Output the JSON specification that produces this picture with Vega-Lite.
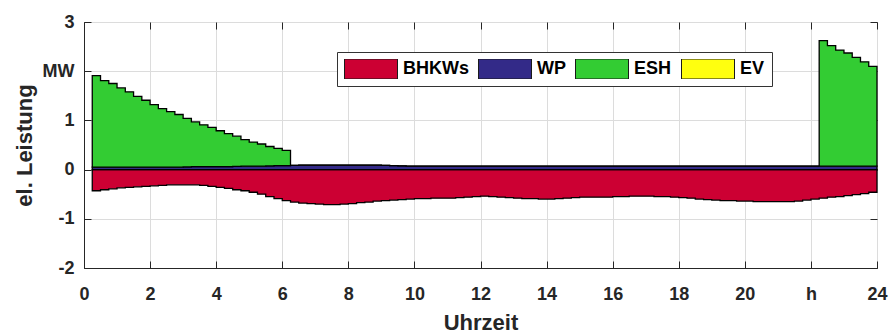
{
  "$schema": "https://vega.github.io/schema/vega-lite/v6.json",
  "width": 793,
  "height": 246,
  "autosize": {"type": "none"},
  "padding": {"left": 84, "top": 22, "right": 12, "bottom": 68},
  "background": "white",
  "config": {"view": {"stroke": "#262626", "strokeWidth": 1}, "font": "Liberation Sans"},
  "data": {"values": [
    {"t":0.25,"BHKWs":-0.43,"WP":0.05,"ESH":1.86},
    {"t":0.5,"BHKWs":-0.41,"WP":0.05,"ESH":1.76},
    {"t":0.75,"BHKWs":-0.39,"WP":0.05,"ESH":1.70},
    {"t":1.0,"BHKWs":-0.37,"WP":0.05,"ESH":1.61},
    {"t":1.25,"BHKWs":-0.36,"WP":0.05,"ESH":1.53},
    {"t":1.5,"BHKWs":-0.35,"WP":0.05,"ESH":1.44},
    {"t":1.75,"BHKWs":-0.34,"WP":0.05,"ESH":1.36},
    {"t":2.0,"BHKWs":-0.33,"WP":0.05,"ESH":1.27},
    {"t":2.25,"BHKWs":-0.32,"WP":0.05,"ESH":1.19},
    {"t":2.5,"BHKWs":-0.31,"WP":0.05,"ESH":1.13},
    {"t":2.75,"BHKWs":-0.31,"WP":0.05,"ESH":1.07},
    {"t":3.0,"BHKWs":-0.31,"WP":0.055,"ESH":0.985},
    {"t":3.25,"BHKWs":-0.31,"WP":0.06,"ESH":0.91},
    {"t":3.5,"BHKWs":-0.32,"WP":0.06,"ESH":0.85},
    {"t":3.75,"BHKWs":-0.34,"WP":0.06,"ESH":0.80},
    {"t":4.0,"BHKWs":-0.36,"WP":0.06,"ESH":0.73},
    {"t":4.25,"BHKWs":-0.38,"WP":0.06,"ESH":0.67},
    {"t":4.5,"BHKWs":-0.41,"WP":0.065,"ESH":0.615},
    {"t":4.75,"BHKWs":-0.43,"WP":0.07,"ESH":0.54},
    {"t":5.0,"BHKWs":-0.46,"WP":0.07,"ESH":0.49},
    {"t":5.25,"BHKWs":-0.50,"WP":0.07,"ESH":0.45},
    {"t":5.5,"BHKWs":-0.55,"WP":0.075,"ESH":0.395},
    {"t":5.75,"BHKWs":-0.59,"WP":0.08,"ESH":0.35},
    {"t":6.0,"BHKWs":-0.63,"WP":0.08,"ESH":0.31},
    {"t":6.25,"BHKWs":-0.66,"WP":0.085,"ESH":0},
    {"t":6.5,"BHKWs":-0.68,"WP":0.09,"ESH":0},
    {"t":6.75,"BHKWs":-0.69,"WP":0.09,"ESH":0},
    {"t":7.0,"BHKWs":-0.70,"WP":0.09,"ESH":0},
    {"t":7.25,"BHKWs":-0.71,"WP":0.09,"ESH":0},
    {"t":7.5,"BHKWs":-0.71,"WP":0.09,"ESH":0},
    {"t":7.75,"BHKWs":-0.70,"WP":0.09,"ESH":0},
    {"t":8.0,"BHKWs":-0.69,"WP":0.09,"ESH":0},
    {"t":8.25,"BHKWs":-0.67,"WP":0.09,"ESH":0},
    {"t":8.5,"BHKWs":-0.66,"WP":0.09,"ESH":0},
    {"t":8.75,"BHKWs":-0.64,"WP":0.09,"ESH":0},
    {"t":9.0,"BHKWs":-0.63,"WP":0.085,"ESH":0},
    {"t":9.25,"BHKWs":-0.62,"WP":0.08,"ESH":0},
    {"t":9.5,"BHKWs":-0.61,"WP":0.075,"ESH":0},
    {"t":9.75,"BHKWs":-0.60,"WP":0.07,"ESH":0},
    {"t":10.0,"BHKWs":-0.59,"WP":0.07,"ESH":0},
    {"t":10.25,"BHKWs":-0.59,"WP":0.07,"ESH":0},
    {"t":10.5,"BHKWs":-0.58,"WP":0.07,"ESH":0},
    {"t":10.75,"BHKWs":-0.58,"WP":0.07,"ESH":0},
    {"t":11.0,"BHKWs":-0.58,"WP":0.07,"ESH":0},
    {"t":11.25,"BHKWs":-0.57,"WP":0.07,"ESH":0},
    {"t":11.5,"BHKWs":-0.56,"WP":0.07,"ESH":0},
    {"t":11.75,"BHKWs":-0.55,"WP":0.07,"ESH":0},
    {"t":12.0,"BHKWs":-0.54,"WP":0.07,"ESH":0},
    {"t":12.25,"BHKWs":-0.55,"WP":0.07,"ESH":0},
    {"t":12.5,"BHKWs":-0.56,"WP":0.07,"ESH":0},
    {"t":12.75,"BHKWs":-0.57,"WP":0.07,"ESH":0},
    {"t":13.0,"BHKWs":-0.58,"WP":0.07,"ESH":0},
    {"t":13.25,"BHKWs":-0.59,"WP":0.07,"ESH":0},
    {"t":13.5,"BHKWs":-0.59,"WP":0.07,"ESH":0},
    {"t":13.75,"BHKWs":-0.60,"WP":0.07,"ESH":0},
    {"t":14.0,"BHKWs":-0.60,"WP":0.07,"ESH":0},
    {"t":14.25,"BHKWs":-0.59,"WP":0.07,"ESH":0},
    {"t":14.5,"BHKWs":-0.58,"WP":0.07,"ESH":0},
    {"t":14.75,"BHKWs":-0.57,"WP":0.07,"ESH":0},
    {"t":15.0,"BHKWs":-0.56,"WP":0.07,"ESH":0},
    {"t":15.25,"BHKWs":-0.56,"WP":0.07,"ESH":0},
    {"t":15.5,"BHKWs":-0.56,"WP":0.07,"ESH":0},
    {"t":15.75,"BHKWs":-0.56,"WP":0.07,"ESH":0},
    {"t":16.0,"BHKWs":-0.55,"WP":0.07,"ESH":0},
    {"t":16.25,"BHKWs":-0.55,"WP":0.07,"ESH":0},
    {"t":16.5,"BHKWs":-0.54,"WP":0.07,"ESH":0},
    {"t":16.75,"BHKWs":-0.54,"WP":0.07,"ESH":0},
    {"t":17.0,"BHKWs":-0.54,"WP":0.07,"ESH":0},
    {"t":17.25,"BHKWs":-0.55,"WP":0.07,"ESH":0},
    {"t":17.5,"BHKWs":-0.55,"WP":0.07,"ESH":0},
    {"t":17.75,"BHKWs":-0.56,"WP":0.07,"ESH":0},
    {"t":18.0,"BHKWs":-0.57,"WP":0.07,"ESH":0},
    {"t":18.25,"BHKWs":-0.58,"WP":0.07,"ESH":0},
    {"t":18.5,"BHKWs":-0.60,"WP":0.07,"ESH":0},
    {"t":18.75,"BHKWs":-0.61,"WP":0.07,"ESH":0},
    {"t":19.0,"BHKWs":-0.62,"WP":0.07,"ESH":0},
    {"t":19.25,"BHKWs":-0.63,"WP":0.07,"ESH":0},
    {"t":19.5,"BHKWs":-0.63,"WP":0.07,"ESH":0},
    {"t":19.75,"BHKWs":-0.64,"WP":0.07,"ESH":0},
    {"t":20.0,"BHKWs":-0.64,"WP":0.07,"ESH":0},
    {"t":20.25,"BHKWs":-0.65,"WP":0.07,"ESH":0},
    {"t":20.5,"BHKWs":-0.65,"WP":0.07,"ESH":0},
    {"t":20.75,"BHKWs":-0.65,"WP":0.07,"ESH":0},
    {"t":21.0,"BHKWs":-0.65,"WP":0.07,"ESH":0},
    {"t":21.25,"BHKWs":-0.65,"WP":0.07,"ESH":0},
    {"t":21.5,"BHKWs":-0.64,"WP":0.07,"ESH":0},
    {"t":21.75,"BHKWs":-0.62,"WP":0.07,"ESH":0},
    {"t":22.0,"BHKWs":-0.60,"WP":0.07,"ESH":0},
    {"t":22.25,"BHKWs":-0.58,"WP":0.07,"ESH":2.55},
    {"t":22.5,"BHKWs":-0.56,"WP":0.07,"ESH":2.45},
    {"t":22.75,"BHKWs":-0.55,"WP":0.07,"ESH":2.36},
    {"t":23.0,"BHKWs":-0.53,"WP":0.07,"ESH":2.30},
    {"t":23.25,"BHKWs":-0.51,"WP":0.07,"ESH":2.21},
    {"t":23.5,"BHKWs":-0.49,"WP":0.07,"ESH":2.12},
    {"t":23.75,"BHKWs":-0.46,"WP":0.07,"ESH":2.03},
    {"t":24.0,"BHKWs":-0.46,"WP":0.07,"ESH":2.03}
  ]},
  "transform": [{"fold": ["BHKWs", "WP", "ESH"], "as": ["Serie", "P"]}],
  "layer": [
    {
      "mark": {"type": "area", "interpolate": "step-after", "stroke": "black", "strokeWidth": 1.3, "strokeJoin": "miter"},
      "encoding": {
        "x": {"field": "t", "type": "quantitative",
          "scale": {"domain": [0, 24], "nice": false, "zero": false},
          "axis": {"orient": "bottom", "values": [0,2,4,6,8,10,12,14,16,18,20,22,24],
            "labelExpr": "datum.value == 22 ? 'h' : '' + datum.value",
            "title": "Uhrzeit", "tickSize": -7, "labelPadding": 24, "labelFontSize": 18, "labelFontWeight": "bold",
            "labelColor": "#262626", "labelFlush": false, "labelOverlap": false,
            "titleFontSize": 22, "titleFontWeight": "bold", "titleColor": "#262626", "titlePadding": 9,
            "grid": true, "gridColor": "#dcdcdc", "gridWidth": 1,
            "domainColor": "#262626", "tickColor": "#262626"}},
        "y": {"field": "P", "type": "quantitative", "stack": "zero",
          "scale": {"domain": [-2, 3], "nice": false},
          "axis": {"orient": "left", "values": [-2,-1,0,1,2,3],
            "labelExpr": "datum.value == 2 ? 'MW' : '' + datum.value",
            "title": "el. Leistung", "tickSize": -7, "labelPadding": 17, "labelFontSize": 18, "labelFontWeight": "bold",
            "labelColor": "#262626", "labelFlush": false, "labelOverlap": false,
            "titleFontSize": 22, "titleFontWeight": "bold", "titleColor": "#262626", "titlePadding": 6,
            "grid": true, "gridColor": "#dcdcdc", "gridWidth": 1,
            "domainColor": "#262626", "tickColor": "#262626"}},
        "color": {"field": "Serie", "type": "nominal",
          "scale": {"domain": ["BHKWs", "WP", "ESH", "EV"], "range": ["#CC0033", "#332A88", "#33CC33", "#FFFF0F"]},
          "legend": {"orient": "none", "legendX": 253, "legendY": 30, "direction": "horizontal", "columns": 4,
            "title": null, "symbolType": "M-1,-0.377H1V0.377H-1Z", "symbolSize": 2809,
            "symbolStrokeColor": "#1a1a1a", "symbolStrokeWidth": 1, "symbolOpacity": 1, "clipHeight": 20,
            "labelFontSize": 18, "labelFontWeight": "bold", "labelFont": "Liberation Sans", "labelColor": "black",
            "labelOffset": 5, "columnPadding": 9, "padding": 7,
            "strokeColor": "#333333", "fillColor": "white", "cornerRadius": 0}}
      }
    },
    {
      "mark": {"type": "point", "opacity": 0, "size": 1},
      "encoding": {
        "x": {"field": "t", "type": "quantitative",
          "axis": {"orient": "top", "values": [0,2,4,6,8,10,12,14,16,18,20,22,24], "labels": false, "domain": false,
            "grid": false, "title": null, "tickSize": -7, "tickColor": "#262626"}},
        "y": {"field": "P", "type": "quantitative", "stack": null,
          "axis": {"orient": "right", "values": [-2,-1,0,1,2,3], "labels": false, "domain": false,
            "grid": false, "title": null, "tickSize": -7, "tickColor": "#262626"}}
      }
    }
  ],
  "resolve": {"axis": {"x": "independent", "y": "independent"}}
}
